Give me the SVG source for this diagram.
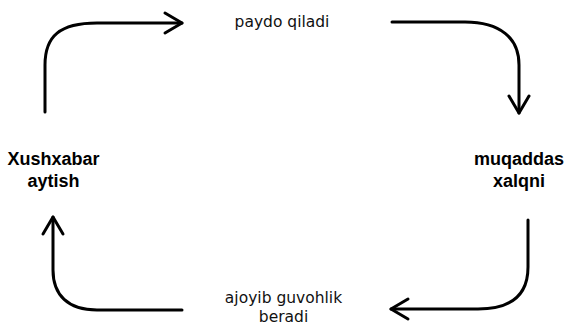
<svg xmlns="http://www.w3.org/2000/svg" width="567" height="325" viewBox="0 0 567 325">
<style>
  .edge { fill: none; stroke: #000; stroke-width: 3; stroke-linecap: round; stroke-linejoin: round; }
  .lbl { font-family: "DejaVu Sans", sans-serif; font-size: 15.5px; fill: #111; text-anchor: middle; }
  .node { font-family: "Liberation Sans", Arial, sans-serif; font-weight: bold; font-size: 18px; fill: #000; text-anchor: middle; }
</style>
<defs>
  <marker id="arrow" markerUnits="userSpaceOnUse" markerWidth="24" markerHeight="26" viewBox="-20 -12 24 24" refX="0" refY="0" orient="auto">
    <path d="M-17,-10 L0,0 L-17,10" fill="none" stroke="#000" stroke-width="3" stroke-linecap="round" stroke-linejoin="round"/>
  </marker>
</defs>
<rect width="567" height="325" fill="#fff"/>
<g id="connectors">
  <path class="edge" d="M45,112 V65 C45,36 60,23 97,23 H182" marker-end="url(#arrow)"/>
  <path class="edge" d="M392,22 H465 C500,22 519,38 519,65 V113" marker-end="url(#arrow)"/>
  <path class="edge" d="M528,220 V267 C528,296 510,309 478,309 H391" marker-end="url(#arrow)"/>
  <path class="edge" d="M182,310 H97 C68,310 53,295 53,270 V217" marker-end="url(#arrow)"/>
</g>
<g id="node-xushxabar">
  <text class="node" x="53.5" y="165">Xushxabar</text>
  <text class="node" x="53.5" y="187">aytish</text>
</g>
<g id="node-muqaddas">
  <text class="node" x="519" y="165">muqaddas</text>
  <text class="node" x="519" y="187">xalqni</text>
</g>
<g id="label-paydo">
  <text class="lbl" x="282" y="27">paydo qiladi</text>
</g>
<g id="label-ajoyib">
  <text class="lbl" x="283.5" y="303">ajoyib guvohlik</text>
  <text class="lbl" x="283.5" y="322">beradi</text>
</g>
</svg>
